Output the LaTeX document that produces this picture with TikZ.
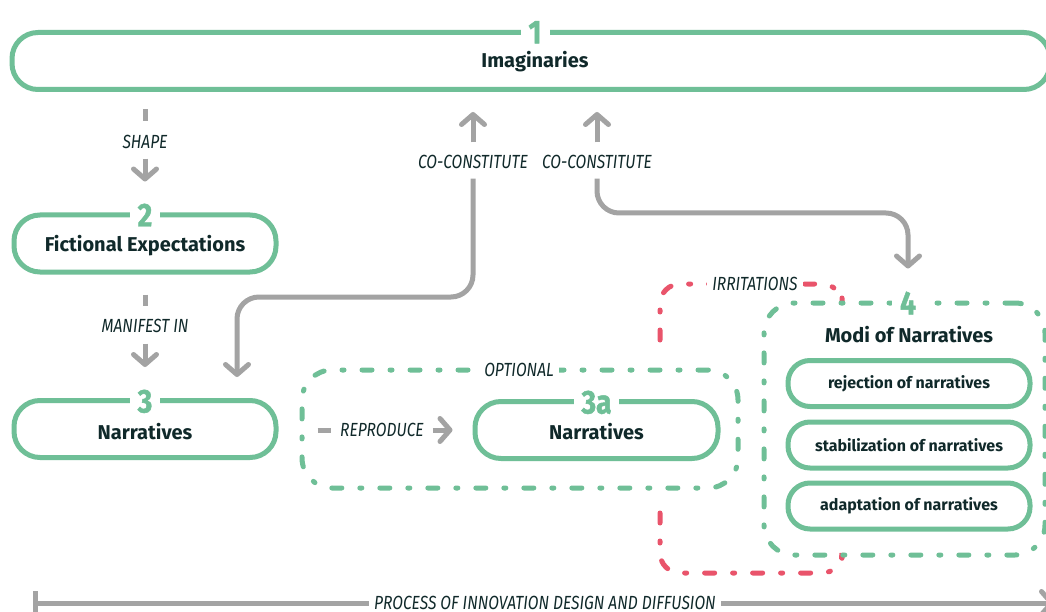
\documentclass[tikz,border=0pt]{standalone}
\usepackage{fontspec}
\setmainfont{Fira Sans}
\newfontfamily\labfont{Fira Sans}[FakeStretch=0.82]
\newfontfamily\numfont{Fira Sans}[FakeStretch=0.85, BoldFeatures={FakeBold=1.5}]
\usetikzlibrary{arrows.meta,calc}
\definecolor{gr}{HTML}{6FBF97}
\definecolor{dk}{HTML}{10292A}
\definecolor{gy}{HTML}{A3A3A3}
\definecolor{rd}{HTML}{E9546B}
\tikzset{
  pill/.style={draw=gr, line width=5pt, rounded corners=26pt, minimum height=57pt, text=dk,
    font=\bfseries\fontsize{20}{24}\selectfont, inner sep=0pt},
  subpill/.style={draw=gr, line width=5pt, rounded corners=22pt, minimum width=242pt,
    minimum height=46pt, text=dk, font=\bfseries\fontsize{16}{19}\selectfont, inner sep=0pt},
  dashbox/.style={draw=gr, line width=5pt, rounded corners=30pt, line cap=round,
    dash pattern=on 10pt off 18pt on 2pt off 18pt, inner sep=0pt},
  numlab/.style={fill=white, text=gr, font=\numfont\bfseries\fontsize{33}{33}\selectfont,
    inner xsep=8pt, inner ysep=1pt, text height=23pt, text depth=0pt},
  edgelab/.style={fill=white, text=dk, font=\labfont\itshape\fontsize{19}{22}\selectfont,
    inner xsep=5pt, inner ysep=3pt, text height=13pt, text depth=0pt},
  titletext/.style={text=dk, font=\bfseries\fontsize{20}{24}\selectfont, inner sep=0pt},
  gline/.style={draw=gy, line width=5pt},
  garrow/.style={draw=gy, line width=5pt, -{Straight Barb[length=10pt,width=23pt,round]}},
  rdash/.style={draw=rd, line width=5pt, line cap=round, rounded corners=20pt,
    dash pattern=on 10pt off 18pt on 2pt off 18pt},
}
\begin{document}
\begin{tikzpicture}[x=1pt,y=-1pt]
\useasboundingbox (0,0) rectangle (1046,612);
\clip (0,0) rectangle (1046,612);
\fill[white] (0,0) rectangle (1046,612);

% red irritation frame (drawn first)
\draw[rdash] (660,340) -- (660,284) -- (842,284) -- (842,298);
\draw[rdash] (660,513) -- (660,573) -- (842,573) -- (842,560);
\node[edgelab] (irr) at (755,284) {IRRITATIONS};

% boxes
\node[pill, minimum width=1038pt] (img) at (531,61) {};
\node[titletext] (imgt) at (535,62) {Imaginaries};
\node[numlab] (n1) at (535,32) {1};

\node[pill, minimum width=262pt] (fe) at (145,243.5) {};
\node[titletext] (fet) at (145,246) {Fictional Expectations};
\node[numlab] (n2) at (145,215) {2};

\node[pill, minimum width=262pt] (nar) at (145,429) {};
\node[titletext] (nart) at (145,432) {Narratives};
\node[numlab] (n3) at (145,401) {3};

\node[dashbox, minimum width=436pt, minimum height=118pt] (opt) at (520,429) {};
\node[edgelab] (optl) at (519,370) {OPTIONAL};

\node[pill, minimum width=243pt] (n3a) at (596.5,430) {};
\node[titletext] (n3at) at (596.5,432) {Narratives};
\node[numlab] (num3a) at (596.5,402) {3a};

\node[dashbox, minimum width=281pt, minimum height=252pt] (modi) at (904.5,429) {};
\node[numlab] (n4) at (908,303) {4};
\node[titletext] (modit) at (909,335) {Modi of Narratives};
\node[subpill] (rej) at (909,383.5) {rejection of narratives};
\node[subpill] (stab) at (909,445) {stabilization of narratives};
\node[subpill] (adap) at (909,506) {adaptation of narratives};

% SHAPE
\node[edgelab] (shape) at (145,142) {SHAPE};
\draw[gline, shorten <=17.5pt, shorten >=11pt] (img.south -| shape.north) -- (shape.north);
\draw[garrow, shorten <=7pt, shorten >=31pt] (shape.south) -- (fe.north);

% MANIFEST IN
\node[edgelab] (man) at (145,326) {MANIFEST IN};
\draw[gline, shorten <=20pt, shorten >=10pt] (fe.south) -- (man.north);
\draw[garrow, shorten <=8pt, shorten >=31pt] (man.south) -- (nar.north);

% CO-CONSTITUTE left
\node[edgelab] (cc1) at (473,162) {CO-CONSTITUTE};
\draw[garrow, shorten <=10pt, shorten >=20pt] (cc1.north) -- (cc1.north |- img.south);
\coordinate (k1) at (237,297);
\draw[garrow, rounded corners=22pt, shorten <=7pt, shorten >=21pt]
  (cc1.south) |- (k1) -- (k1 |- nar.north);

% CO-CONSTITUTE right
\node[edgelab] (cc2) at (597,162) {CO-CONSTITUTE};
\draw[garrow, shorten <=10pt, shorten >=20pt] (cc2.north) -- (cc2.north |- img.south);
\coordinate (k2) at (908,213);
\draw[garrow, rounded corners=22pt, shorten <=7pt, shorten >=32pt]
  (cc2.south) |- (k2) -- (k2 |- modi.north);

% REPRODUCE
\node[edgelab, anchor=west, inner xsep=3pt] (rep) at (337,430) {REPRODUCE};
\draw[gline, shorten <=18pt, shorten >=6pt] (opt.west |- rep.west) -- (rep.west);
\draw[garrow, shorten <=6pt, shorten >=20pt] (rep.east) -- (n3a.west);

% process line
\coordinate (ps) at (35,603);
\coordinate (pe) at (1054,603);
\draw[gline] ($(ps)+(0,-12)$) -- ($(ps)+(0,12)$);
\draw[garrow] (ps) -- (pe);
\node[edgelab, inner ysep=1.5pt] (proc) at (545,602.5) {PROCESS OF INNOVATION DESIGN AND DIFFUSION};
\end{tikzpicture}
\end{document}
